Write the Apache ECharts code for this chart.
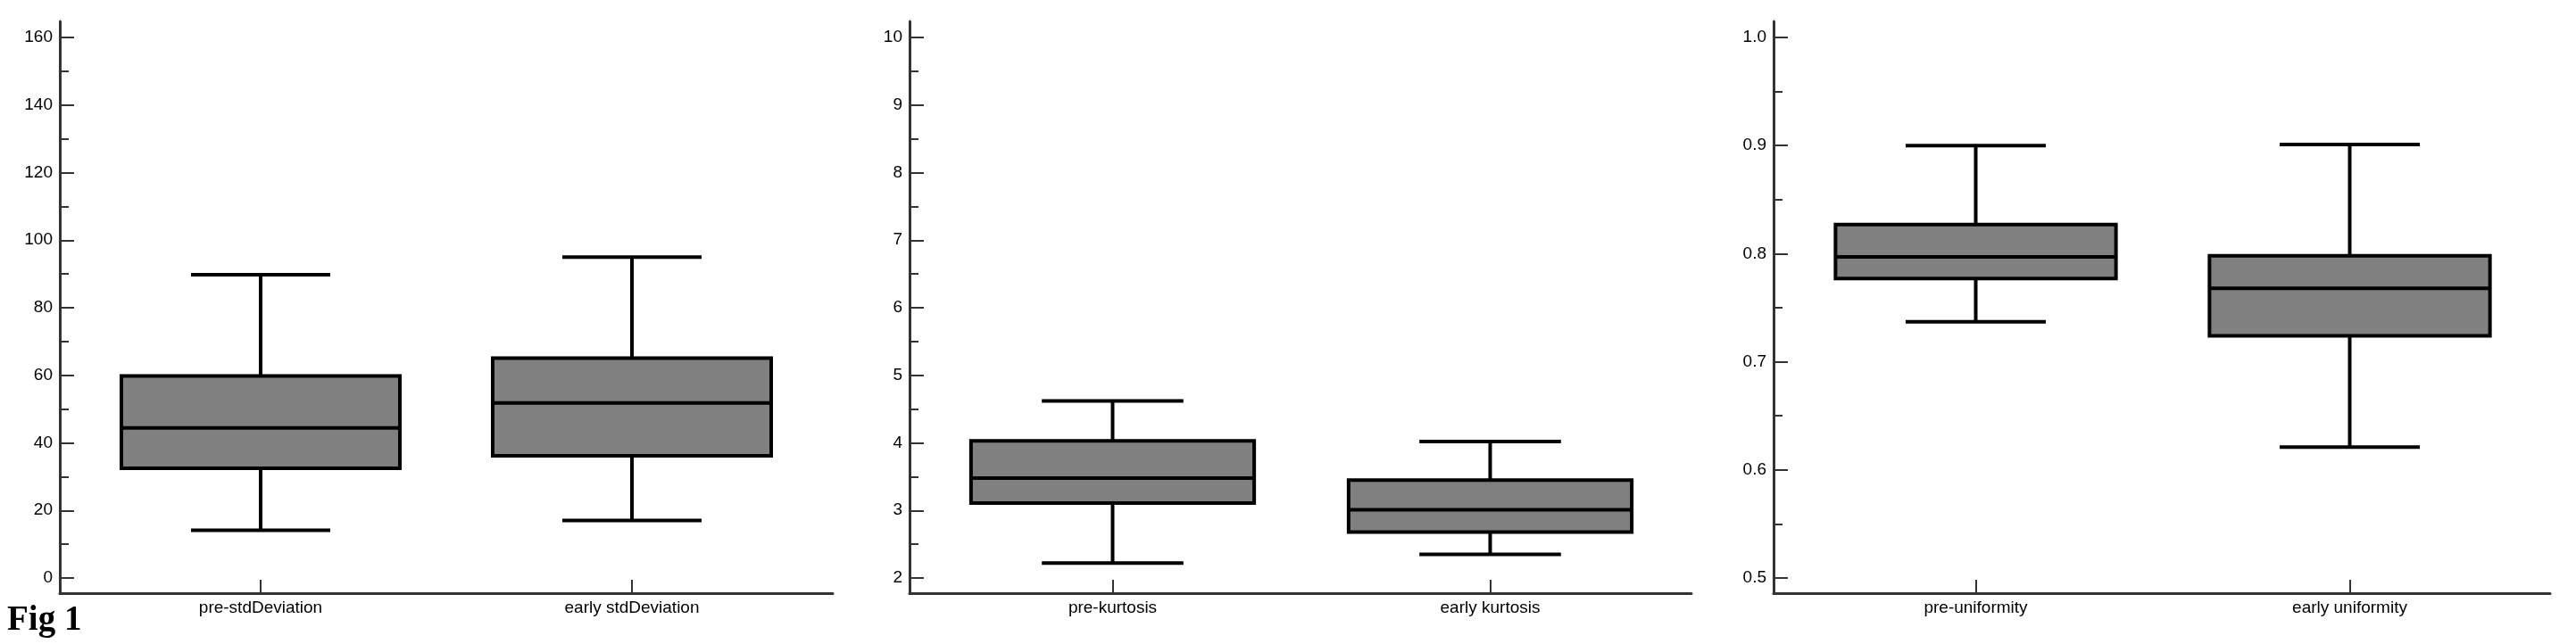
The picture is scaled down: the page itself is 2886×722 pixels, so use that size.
<!DOCTYPE html>
<html>
<head>
<meta charset="utf-8">
<script src="https://cdn.jsdelivr.net/npm/echarts@6/dist/echarts.min.js"></script>
<style>
  html, body { margin: 0; padding: 0; background: #fff; }
  #chart { width: 2886px; height: 722px; }
</style>
</head>
<body>
<div id="chart"></div>
<script>
// values: min, Q1, median, Q3, max for each group
var stdCategories = ['pre-stdDeviation', 'early stdDeviation'];
var stdMin = [14.1, 17.0];
var stdQ1 = [32.5, 36.2];
var stdMedian = [44.4, 51.8];
var stdQ3 = [59.8, 65.1];
var stdMax = [89.8, 95.0];

var kurtCategories = ['pre-kurtosis', 'early kurtosis'];
var kurtMin = [2.22, 2.35];
var kurtQ1 = [3.11, 2.68];
var kurtMedian = [3.48, 3.01];
var kurtQ3 = [4.03, 3.45];
var kurtMax = [4.62, 4.02];

var uniCategories = ['pre-uniformity', 'early uniformity'];
var uniMin = [0.737, 0.621];
var uniQ1 = [0.777, 0.724];
var uniMedian = [0.797, 0.768];
var uniQ3 = [0.827, 0.798];
var uniMax = [0.900, 0.901];

var FONT = "'Liberation Sans', Arial, sans-serif";

// panel geometry: frame = axis lines, data grid = where the categories sit
var panels = [
  { cats: stdCategories, min: stdMin, q1: stdQ1, med: stdMedian, q3: stdQ3, max: stdMax,
    yMin: 0, yMax: 160, yStep: 20, digits: 0,
    frameLeft: 67, frameWidth: 866, dataLeft: 84, dataWidth: 832 },
  { cats: kurtCategories, min: kurtMin, q1: kurtQ1, med: kurtMedian, q3: kurtQ3, max: kurtMax,
    yMin: 2, yMax: 10, yStep: 1, digits: 0,
    frameLeft: 1019, frameWidth: 876, dataLeft: 1035, dataWidth: 846 },
  { cats: uniCategories, min: uniMin, q1: uniQ1, med: uniMedian, q3: uniQ3, max: uniMax,
    yMin: 0.5, yMax: 1.0, yStep: 0.1, digits: 1,
    frameLeft: 1987, frameWidth: 870, dataLeft: 2004, dataWidth: 838 }
];

function renderBox(params, api) {
  var idx = api.value(0);
  var lo = api.coord([idx, api.value(1)]);
  var q1 = api.coord([idx, api.value(2)]);
  var med = api.coord([idx, api.value(3)]);
  var q3 = api.coord([idx, api.value(4)]);
  var hi = api.coord([idx, api.value(5)]);
  var band = api.size([1, 0])[0];
  var bw = band * 0.75;
  var cw = bw / 2;
  var cx = lo[0];
  var ln = { stroke: '#000', lineWidth: 4, fill: null };
  return {
    type: 'group',
    children: [
      { type: 'line', shape: { x1: cx, y1: hi[1], x2: cx, y2: q3[1] }, style: ln },
      { type: 'line', shape: { x1: cx, y1: q1[1], x2: cx, y2: lo[1] }, style: ln },
      { type: 'line', shape: { x1: cx - cw / 2, y1: hi[1], x2: cx + cw / 2, y2: hi[1] }, style: ln },
      { type: 'line', shape: { x1: cx - cw / 2, y1: lo[1], x2: cx + cw / 2, y2: lo[1] }, style: ln },
      { type: 'rect', shape: { x: cx - bw / 2, y: q3[1], width: bw, height: q1[1] - q3[1] },
        style: { fill: '#808080', stroke: '#000', lineWidth: 4 } },
      { type: 'line', shape: { x1: cx - bw / 2, y1: med[1], x2: cx + bw / 2, y2: med[1] }, style: ln }
    ]
  };
}

var grid = [], xAxis = [], yAxis = [], series = [];

panels.forEach(function (p, i) {
  var frameIdx = grid.length;
  grid.push({ left: p.frameLeft, top: 24, width: p.frameWidth, height: 641 });
  var dataIdx = grid.length;
  grid.push({ left: p.dataLeft, top: 42, width: p.dataWidth, height: 606 });

  // frame axes: just the two heavy lines
  xAxis.push({
    gridIndex: frameIdx, type: 'value', min: 0, max: 1,
    axisLine: { show: true, onZero: false, lineStyle: { color: '#333', width: 3 } },
    axisTick: { show: false }, axisLabel: { show: false }, splitLine: { show: false }
  });
  yAxis.push({
    gridIndex: frameIdx, type: 'value', min: 0, max: 1,
    axisLine: { show: true, onZero: false, lineStyle: { color: '#333', width: 3 } },
    axisTick: { show: false }, axisLabel: { show: false }, splitLine: { show: false }
  });

  // data axes
  xAxis.push({
    gridIndex: dataIdx, type: 'category', data: p.cats, boundaryGap: true,
    offset: 665 - 648,
    axisLine: { show: false, onZero: false },
    axisTick: { show: true, inside: true, alignWithLabel: true, length: 15,
                lineStyle: { color: '#333', width: 2 } },
    axisLabel: { color: '#000', fontFamily: FONT, fontSize: 19, margin: 7 },
    splitLine: { show: false }
  });
  yAxis.push({
    gridIndex: dataIdx, type: 'value', min: p.yMin, max: p.yMax, interval: p.yStep,
    offset: p.dataLeft - p.frameLeft,
    axisLine: { show: false, onZero: false },
    axisTick: { show: true, inside: true, length: 16, lineStyle: { color: '#333', width: 2 } },
    minorTick: { show: true, splitNumber: 2, length: 10, lineStyle: { color: '#333', width: 2 } },
    axisLabel: {
      color: '#000', fontFamily: FONT, fontSize: 19, margin: 8,
      formatter: function (v) { return v.toFixed(p.digits); }
    },
    splitLine: { show: false }
  });

  var rows = p.cats.map(function (c, k) {
    return [k, p.min[k], p.q1[k], p.med[k], p.q3[k], p.max[k]];
  });
  series.push({
    type: 'custom',
    xAxisIndex: xAxis.length - 1,
    yAxisIndex: yAxis.length - 1,
    renderItem: renderBox,
    encode: { x: 0, y: [1, 2, 3, 4, 5] },
    data: rows,
    silent: true
  });
});

var chart = echarts.init(document.getElementById('chart'));
chart.setOption({
  backgroundColor: '#fff',
  animation: false,
  grid: grid,
  xAxis: xAxis,
  yAxis: yAxis,
  series: series,
  graphic: [{
    type: 'text', left: 8, top: 676,
    style: { text: 'Fig 1', font: "bold 39px 'Liberation Serif', 'Times New Roman', serif", fill: '#000' }
  }]
});

window.addEventListener('resize', function () {
  chart.resize();
});
</script>
</body>
</html>
